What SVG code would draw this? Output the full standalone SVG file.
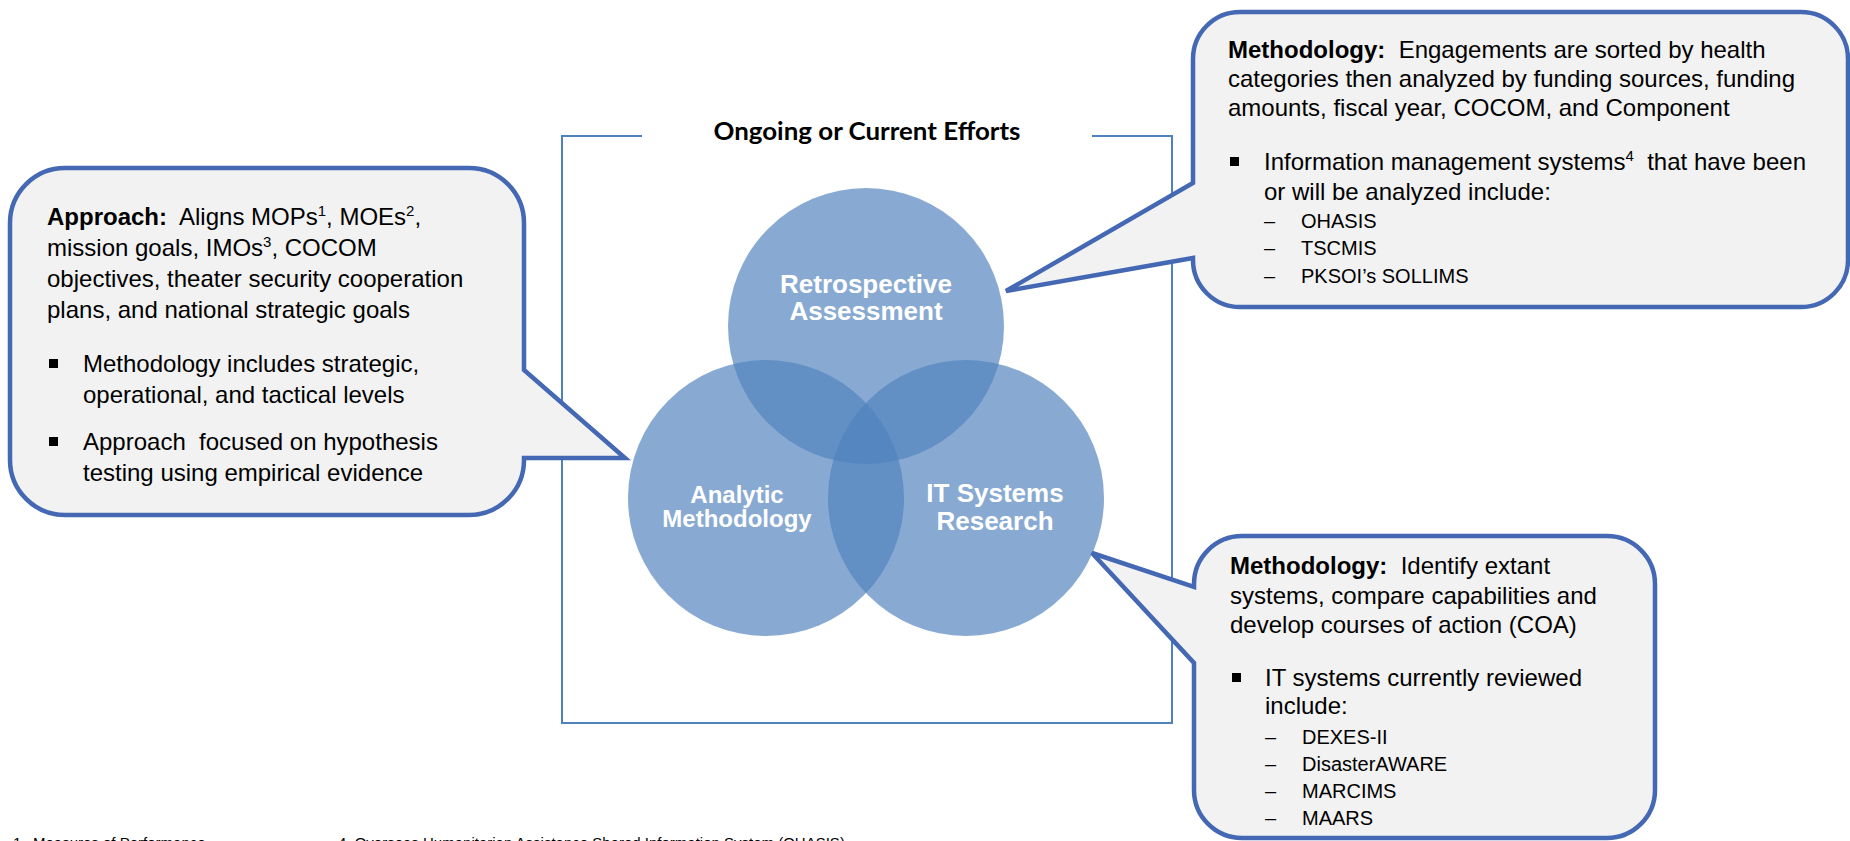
<svg xmlns="http://www.w3.org/2000/svg" width="1850" height="841" viewBox="0 0 1850 841">
<style>
.t{font-family:"Liberation Sans",Arial,sans-serif;font-size:24px;fill:#000;white-space:pre}
.b{font-weight:bold}
.d{font-family:"Liberation Sans",Arial,sans-serif;font-size:20px;fill:#000;white-space:pre}
.sup{font-size:15px}
.ft{font-family:"Liberation Sans",Arial,sans-serif;font-size:15px;fill:#000;white-space:pre}
.call{fill:#F2F2F2;stroke:#4468B4;stroke-width:4.5;stroke-linejoin:miter}
.circ{fill:#4F81BD;fill-opacity:0.68}
.cl{font-family:"Liberation Sans",Arial,sans-serif;font-weight:bold;fill:#fff;text-anchor:middle}
.frame{fill:none;stroke:#4F81BD;stroke-width:2}
</style>
<rect width="1850" height="841" fill="#fff"/>

<g id="frame">
<path class="frame" d="M642,136 H562 V723 H1172 V136 H1092"/>
<text x="867" y="140" text-anchor="middle" textLength="307" lengthAdjust="spacingAndGlyphs" style="font-family:Lato,'Open Sans',sans-serif;font-weight:bold;font-size:24px;fill:#000">Ongoing or Current Efforts</text>
</g>

<g id="venn">
<g id="node-retrospective">
<circle class="circ" cx="866" cy="326" r="138"/>
</g>
<g id="node-analytic">
<circle class="circ" cx="766" cy="498" r="138"/>
</g>
<g id="node-itsystems">
<circle class="circ" cx="966" cy="498" r="138"/>
</g>
<text class="cl" x="866" y="293" font-size="26">Retrospective</text>
<text class="cl" x="866" y="320" font-size="26">Assessment</text>
<text class="cl" x="737" y="503" font-size="24">Analytic</text>
<text class="cl" x="737" y="527" font-size="24">Methodology</text>
<text class="cl" x="995" y="502" font-size="26">IT Systems</text>
<text class="cl" x="995" y="530" font-size="26">Research</text>
</g>

<g id="connectors"></g>

<g id="callout-approach">
<path class="call" d="M65,168 H469 A55,55 0 0 1 524,223 V370 L625,458 L524,458 V460 A55,55 0 0 1 469,515 H65 A55,55 0 0 1 10,460 V223 A55,55 0 0 1 65,168 Z"/>
<text class="t" x="47" y="225"><tspan class="b">Approach:</tspan>  Aligns MOPs<tspan class="sup" dy="-9">1</tspan><tspan dy="9">, MOEs</tspan><tspan class="sup" dy="-9">2</tspan><tspan dy="9">,</tspan></text>
<text class="t" x="47" y="256">mission goals, IMOs<tspan class="sup" dy="-9">3</tspan><tspan dy="9">, COCOM</tspan></text>
<text class="t" x="47" y="287">objectives, theater security cooperation</text>
<text class="t" x="47" y="318">plans, and national strategic goals</text>
<rect x="49" y="359" width="9" height="9" fill="#000"/>
<text class="t" x="83" y="372">Methodology includes strategic,</text>
<text class="t" x="83" y="403">operational, and tactical levels</text>
<rect x="49" y="437" width="9" height="9" fill="#000"/>
<text class="t" x="83" y="450">Approach  focused on hypothesis</text>
<text class="t" x="83" y="481">testing using empirical evidence</text>
</g>

<g id="callout-retrospective">
<path class="call" d="M1240,12 H1801 A47,47 0 0 1 1848,59 V260 A47,47 0 0 1 1801,307 H1240 A47,47 0 0 1 1193,260 V258 L1006,291 L1193,183 V59 A47,47 0 0 1 1240,12 Z"/>
<text class="t" x="1228" y="58"><tspan class="b">Methodology:</tspan>  Engagements are sorted by health</text>
<text class="t" x="1228" y="87">categories then analyzed by funding sources, funding</text>
<text class="t" x="1228" y="116">amounts, fiscal year, COCOM, and Component</text>
<rect x="1230" y="157" width="9" height="9" fill="#000"/>
<text class="t" x="1264" y="170">Information management systems<tspan class="sup" dy="-9">4</tspan><tspan dy="9">  that have been</tspan></text>
<text class="t" x="1264" y="200">or will be analyzed include:</text>
<text class="d" x="1264" y="228">–</text><text class="d" x="1301" y="228">OHASIS</text>
<text class="d" x="1264" y="255">–</text><text class="d" x="1301" y="255">TSCMIS</text>
<text class="d" x="1264" y="283">–</text><text class="d" x="1301" y="283">PKSOI’s SOLLIMS</text>
</g>

<g id="callout-itsystems">
<path class="call" d="M1242,536 H1607 A48,48 0 0 1 1655,584 V790 A48,48 0 0 1 1607,838 H1242 A48,48 0 0 1 1194,790 V663 L1092,553 L1194,587 V584 A48,48 0 0 1 1242,536 Z"/>
<text class="t" x="1230" y="574"><tspan class="b">Methodology:</tspan>  Identify extant</text>
<text class="t" x="1230" y="604">systems, compare capabilities and</text>
<text class="t" x="1230" y="633">develop courses of action (COA)</text>
<rect x="1232" y="673" width="9" height="9" fill="#000"/>
<text class="t" x="1265" y="686">IT systems currently reviewed</text>
<text class="t" x="1265" y="714">include:</text>
<text class="d" x="1265" y="744">–</text><text class="d" x="1302" y="744">DEXES-II</text>
<text class="d" x="1265" y="771">–</text><text class="d" x="1302" y="771">DisasterAWARE</text>
<text class="d" x="1265" y="798">–</text><text class="d" x="1302" y="798">MARCIMS</text>
<text class="d" x="1265" y="825">–</text><text class="d" x="1302" y="825">MAARS</text>
</g>

<g id="footnotes">
<text class="ft" x="13" y="848">1.</text>
<text class="ft" x="33" y="848">Measures of Performance</text>
<text class="ft" x="338" y="848">4. Overseas Humanitarian Assistance Shared Information System (OHASIS)</text>
</g>
</svg>
